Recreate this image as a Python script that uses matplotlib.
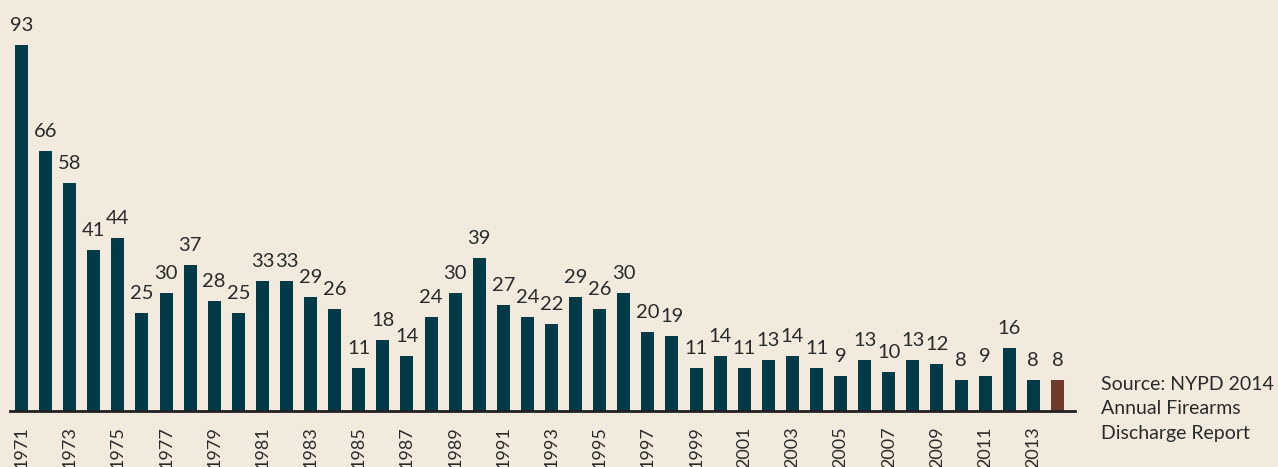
import matplotlib.pyplot as plt

years = list(range(1971, 2015))
values = [93, 66, 58, 41, 44, 25, 30, 37, 28, 25, 33, 33, 29, 26, 11, 18, 14,
          24, 30, 39, 27, 24, 22, 29, 26, 30, 20, 19, 11, 14, 11, 13, 14, 11,
          9, 13, 10, 13, 12, 8, 9, 16, 8, 8]
tick_years = list(range(1971, 2014, 2))
source_text = "Source: NYPD 2014\nAnnual Firearms\nDischarge Report"

bg = '#f2ebdd'
teal = '#023a48'
brown = '#6d3a2b'
ink = '#2a2a2a'

plt.rcParams['font.family'] = ['Lato', 'DejaVu Sans']

fig = plt.figure(figsize=(12.78, 4.67), dpi=100, facecolor=bg)
ax = fig.add_axes([10 / 1278, 56 / 467, 1065 / 1278, 393.5 / 467])
ax.set_facecolor(bg)

x = list(range(len(years)))
colors = [teal] * (len(years) - 1) + [brown]
ax.bar(x, values, width=0.54, color=colors)

for xi, v in zip(x, values):
    ax.text(xi, v + 2.8, str(v), ha='center', va='bottom', fontsize=14.5, color=ink)

ax.set_xlim(-0.477, 43.73)
ax.set_ylim(0, 100)
ax.set_xticks([years.index(y) for y in tick_years])
ax.set_xticklabels([str(y) for y in tick_years], rotation=90, va='top',
                   fontsize=13, color=ink)
ax.tick_params(axis='x', length=0, pad=11)
ax.set_yticks([])

for side in ['left', 'right', 'top']:
    ax.spines[side].set_visible(False)
ax.spines['bottom'].set_color('#222222')
ax.spines['bottom'].set_linewidth(2)

fig.text(1101 / 1278, 1 - 409 / 467, source_text, ha='left', va='center',
         fontsize=14, color=ink, linespacing=1.55)

fig.savefig('out.png', dpi=100, facecolor=bg)
